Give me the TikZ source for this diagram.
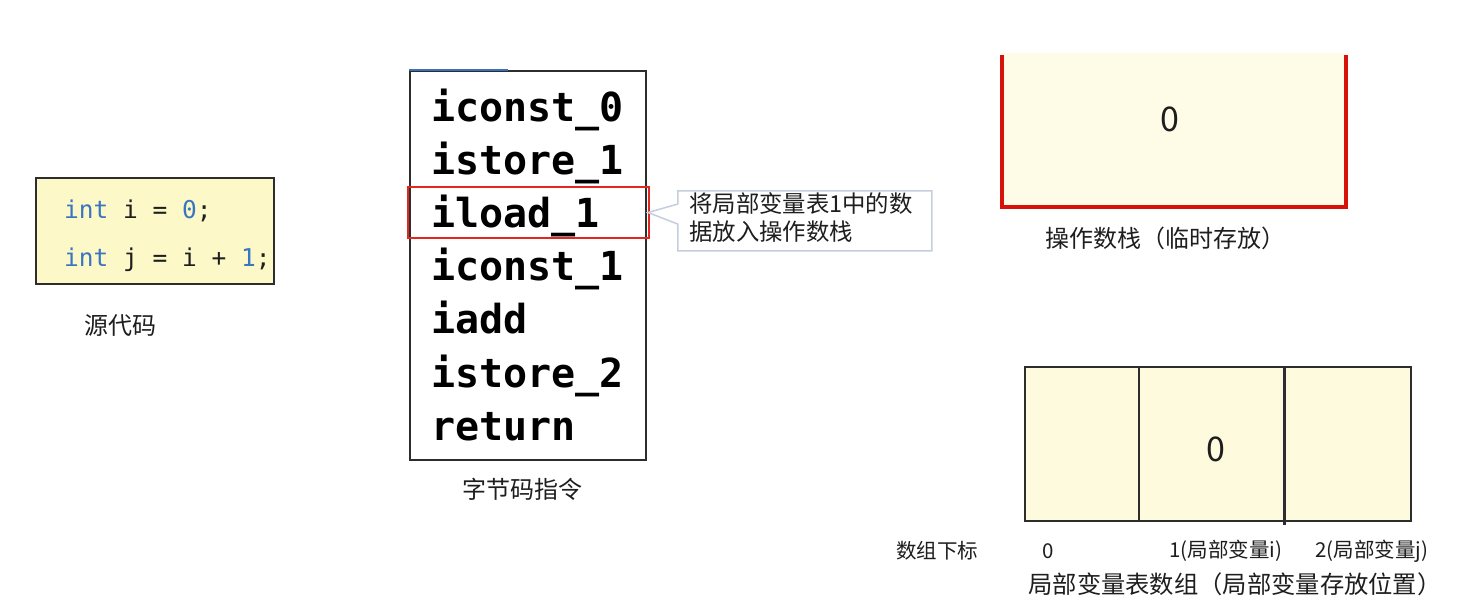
\documentclass[tikz,border=0pt]{standalone}
\usepackage{fontspec}
\setmainfont{Noto Sans CJK SC}
\newfontfamily\codefont{DejaVu Sans Mono}
\usetikzlibrary{shapes.callouts}
\definecolor{codebg}{RGB}{252,248,200}
\definecolor{stackbg}{RGB}{254,251,230}
\definecolor{arrbg}{RGB}{254,250,222}
\definecolor{kw}{RGB}{58,118,192}
\definecolor{frame}{RGB}{45,45,45}
\definecolor{hlred}{RGB}{224,40,30}
\definecolor{stackred}{RGB}{214,18,10}
\definecolor{callb}{RGB}{196,206,220}
\definecolor{topblue}{RGB}{60,110,190}
\definecolor{txt}{RGB}{30,30,30}
\tikzset{
  codetxt/.style={anchor=base west, inner sep=0, text=txt, font=\codefont\fontsize{24.5}{28}\selectfont},
  bctxt/.style={anchor=base west, inner sep=0, text=black, font=\codefont\bfseries\fontsize{40}{44}\selectfont},
  cjklabel/.style={inner sep=0, text=txt, font=\fontsize{24}{28}\selectfont},
  smalllabel/.style={inner sep=0, text=txt, font=\fontsize{20.5}{24}\selectfont},
  cell/.style={draw=frame, line width=1.5pt, fill=arrbg, anchor=north west, inner sep=0, minimum height=154},
  bignum/.style={inner sep=0, text=txt, font=\fontsize{34}{40}\selectfont},
}
\begin{document}
\begin{tikzpicture}[x=1pt,y=-1pt]
\useasboundingbox[fill=white] (0,0) rectangle (1465,611);

% source code
\node[draw=frame, fill=codebg, line width=1.5pt, anchor=north west, inner sep=0,
      minimum width=238, minimum height=106] (code) at (35,177) {};
\node[codetxt] (c1) at (64,218) {\textcolor{kw}{int} i = \textcolor{kw}{0};};
\node[codetxt] (c2) at (64,266) {\textcolor{kw}{int} j = i + \textcolor{kw}{1};};
\node[cjklabel] (srclab) at (120,326) {源代码};

% bytecode
\node[draw=frame, line width=1.5pt, anchor=north west, inner sep=0,
      minimum width=236, minimum height=389] (bc) at (409,70) {};
\draw[topblue, line width=2pt] (bc.north west) -- ++(99,0) coordinate (bctop);
\foreach \t [count=\i] in {iconst\_0,istore\_1,iload\_1,iconst\_1,iadd,istore\_2,return}{
  \node[bctxt] (b\i) at (431,{121+53.2*(\i-1)}) {\t};
}
\node[draw=hlred, line width=2pt, anchor=north west, inner sep=0,
      minimum width=241, minimum height=51] (hl) at (407,186) {};
\node[cjklabel] (bclab) at (522,489) {字节码指令};

% callout
\node[rectangle callout, draw=callb, fill=white, line width=1.5pt, anchor=north west,
      inner sep=0, minimum width=254, minimum height=60,
      callout absolute pointer={([xshift=-2pt]hl.east)}, callout pointer width=20pt] (call) at (677,190) {};
\node[cjklabel, anchor=north west, align=left, font=\fontsize{23.4}{28}\selectfont] (calltxt) at (689,192)
  {将局部变量表1中的数\\据放入操作数栈};

% operand stack
\node[fill=stackbg, anchor=north west, inner sep=0, minimum width=344, minimum height=154] (stack) at (1002,53) {};
\draw[stackred, line width=4pt] ([yshift=-2pt]stack.north west) -- (stack.south west)
  -- (stack.south east) -- ([yshift=-2pt]stack.north east);
\node[bignum] (s0) at (1170,119) {0};
\node[cjklabel] (stlab) at (1165,238) {操作数栈（临时存放）};

% local variable array
\node[cell, minimum width=114] (a0) at (1024,366) {};
\node[cell, minimum width=145] (a1) at (1138,366) {};
\node[cell, minimum width=127] (a2) at (1283,366) {};
\draw[frame, line width=3pt] (a1.north east) -- ([yshift=-3pt]a1.south east);
\node[bignum] (v1) at (1216,449) {0};

\node[smalllabel] (idx) at (937,551) {数组下标};
\node[smalllabel] (i0) at (1048,551) {0};
\node[smalllabel] (i1) at (1226,551) {1(局部变量i)};
\node[smalllabel] (i2) at (1372,551) {2(局部变量j)};
\node[cjklabel, font=\fontsize{24.3}{28}\selectfont] (arrlab) at (1235,584) {局部变量表数组（局部变量存放位置）};
\end{tikzpicture}
\end{document}
